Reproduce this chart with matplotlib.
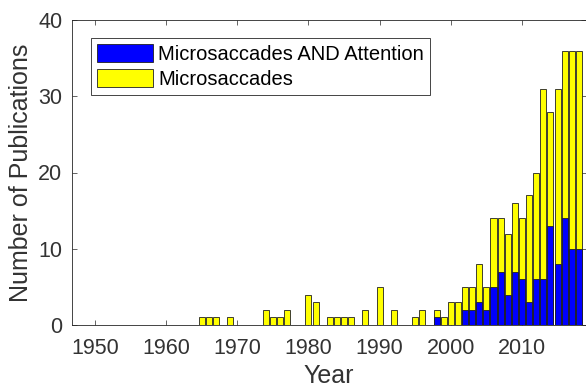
import matplotlib
matplotlib.use('Agg')
import matplotlib.pyplot as plt

# Fuente tipo Arial (Liberation Sans) con respaldo DejaVu
plt.rcParams['font.family'] = ['Liberation Sans', 'DejaVu Sans']

# Datos
anios = [1965, 1966, 1967, 1969, 1974, 1975, 1976, 1977, 1980, 1981,
         1983, 1984, 1985, 1986, 1988, 1990, 1992, 1995, 1996, 1998,
         1999, 2000, 2001, 2002, 2003, 2004, 2005, 2006, 2007, 2008,
         2009, 2010, 2011, 2012, 2013, 2014, 2015, 2016, 2017, 2018]
microsacadas = [1, 1, 1, 1, 2, 1, 1, 2, 4, 3,
                1, 1, 1, 1, 2, 5, 2, 1, 2, 2,
                1, 3, 3, 5, 5, 8, 5, 14, 14, 12,
                16, 14, 17, 20, 31, 28, 31, 36, 36, 36]
microsacadas_atencion = [0, 0, 0, 0, 0, 0, 0, 0, 0, 0,
                         0, 0, 0, 0, 0, 0, 0, 0, 0, 1,
                         0, 0, 0, 2, 2, 3, 2, 5, 7, 4,
                         7, 6, 3, 6, 6, 13, 8, 14, 10, 10]
ticks_x = [1950, 1960, 1970, 1980, 1990, 2000, 2010]
ticks_y = [0, 10, 20, 30, 40]

gris = '#262626'
gris_texto = '#333333'

fig = plt.figure(figsize=(5.86, 3.92), dpi=100)
ax = fig.add_axes([72 / 586, 67 / 392, 1.0 - 72 / 586, 305 / 392])

ancho = 0.85
ax.bar(anios, microsacadas, width=ancho, color='#ffff00', edgecolor='#202020',
       linewidth=0.6, label='Microsaccades', zorder=2)
ax.bar(anios, microsacadas_atencion, width=ancho, color='#0000ff', edgecolor='#202020',
       linewidth=0.6, label='Microsaccades AND Attention', zorder=3)

ax.set_xlim(1946.77, 2019.0)
ax.set_ylim(0, 40)
ax.set_xticks(ticks_x)
ax.set_yticks(ticks_y)
ax.tick_params(direction='in', top=True, right=True, length=3.5, width=0.5,
               color=gris, labelcolor=gris_texto, labelsize=15.5)
ax.tick_params(axis='x', pad=9)
ax.tick_params(axis='y', pad=7)
for s in ax.spines.values():
    s.set_color(gris)
    s.set_linewidth(0.6)

ax.set_xlabel('Year', fontsize=18, color=gris_texto, labelpad=4)
ax.set_ylabel('Number of Publications', fontsize=18, color=gris_texto, labelpad=4)

# Leyenda con el orden: azul primero, amarillo después
h, l = ax.get_legend_handles_labels()
leg = ax.legend([h[1], h[0]], [l[1], l[0]], loc='upper left',
                bbox_to_anchor=(0.036, 0.941), borderaxespad=0, fontsize=14.5,
                handlelength=2.8, handleheight=1.0, handletextpad=0.25,
                borderpad=0.3, labelspacing=0.25, fancybox=False, framealpha=1)
leg.get_frame().set_edgecolor(gris)
leg.get_frame().set_linewidth(0.6)
for t in leg.get_texts():
    t.set_color('#000000')

fig.savefig('out.png', dpi=100)
